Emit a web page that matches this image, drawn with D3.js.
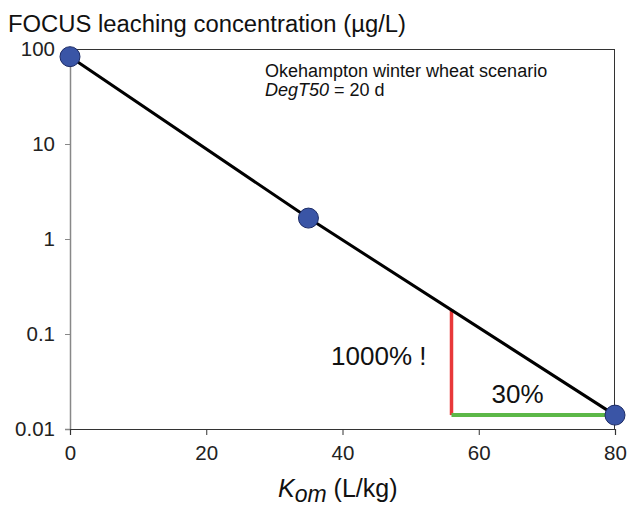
<!DOCTYPE html>
<html>
<head>
<meta charset="utf-8">
<script src="https://cdn.jsdelivr.net/npm/d3@7"></script>
<style>
  body { margin: 0; background: #fff; }
  svg { font-family: "Liberation Sans", Arial, sans-serif; display: block; }
</style>
</head>
<body>
<script>
// data
const komValues = [0, 35, 80];
const concValues = [83, 1.66, 0.014];
const xTickValues = [0, 20, 40, 60, 80];
const yTickValues = [100, 10, 1, 0.1, 0.01];
const yTickLabels = ["100", "10", "1", "0.1", "0.01"];
// annotation: the red (concentration) and green (Kom) legs
const markKom = [56, 80];
const markConc = [0.183, 0.014];

const svgWidth = 628;
const svgHeight = 513;
const margin = {top: 49, right: 13, bottom: 84, left: 70};
const chartWidth = svgWidth - margin.left - margin.right;
const chartHeight = svgHeight - margin.top - margin.bottom;

const svg = d3.select("body")
    .append("svg")
    .attr("width", svgWidth)
    .attr("height", svgHeight);

const g = svg.append("g")
    .attr("transform", `translate(${margin.left}, ${margin.top})`);

const x = d3.scaleLinear().domain([0, 80]).range([0, chartWidth]);
const y = d3.scaleLog().domain([0.01, 100]).range([chartHeight, 0]);

// frame lines on top and right
g.append("line")
    .attr("x1", 0).attr("x2", chartWidth)
    .attr("y1", 0.5).attr("y2", 0.5)
    .attr("stroke", "#333").attr("stroke-width", 1);
g.append("line")
    .attr("x1", chartWidth - 0.5).attr("x2", chartWidth - 0.5)
    .attr("y1", 0).attr("y2", chartHeight)
    .attr("stroke", "#333").attr("stroke-width", 1);

// y axis
const yAxis = g.append("g")
    .call(d3.axisLeft(y)
        .tickValues(yTickValues)
        .tickFormat((d, i) => yTickLabels[i])
        .tickSize(5)
        .tickPadding(10));
yAxis.select(".domain").attr("stroke", "#888").attr("stroke-width", 1.5);
yAxis.selectAll(".tick line").attr("stroke", "#888");
yAxis.selectAll("text")
    .style("font-size", "20.5px")
    .attr("fill", "#222");

// x axis
const xAxis = g.append("g")
    .attr("transform", `translate(0, ${chartHeight})`)
    .call(d3.axisBottom(x)
        .tickValues(xTickValues)
        .tickSize(6)
        .tickPadding(10));
xAxis.select(".domain").attr("stroke", "#333").attr("stroke-width", 1.2);
xAxis.selectAll(".tick line").attr("stroke", "#333");
xAxis.selectAll("text")
    .style("font-size", "20.5px")
    .attr("fill", "#222");

// red and green legs
g.append("line")
    .attr("x1", x(markKom[0])).attr("x2", x(markKom[0]))
    .attr("y1", y(markConc[0])).attr("y2", y(markConc[1]))
    .attr("stroke", "#e8383a").attr("stroke-width", 3.5);
g.append("line")
    .attr("x1", x(markKom[0])).attr("x2", x(markKom[1]))
    .attr("y1", y(markConc[1])).attr("y2", y(markConc[1]))
    .attr("stroke", "#5cb848").attr("stroke-width", 4);

// line through the points
const data = komValues.map((k, i) => ({kom: k, conc: concValues[i]}));
const line = d3.line()
    .x(d => x(d.kom))
    .y(d => y(d.conc));
g.append("path")
    .datum(data)
    .attr("d", line)
    .attr("fill", "none")
    .attr("stroke", "#000")
    .attr("stroke-width", 3);

g.selectAll("circle")
    .data(data)
    .join("circle")
    .attr("cx", d => x(d.kom))
    .attr("cy", d => y(d.conc))
    .attr("r", 10)
    .attr("fill", "#3a55a6")
    .attr("stroke", "#1c2b66")
    .attr("stroke-width", 1);

// annotations
g.append("text")
    .attr("x", x(markKom[0]) - 25)
    .attr("y", 316)
    .attr("text-anchor", "end")
    .style("font-size", "26px")
    .attr("fill", "#111")
    .text("1000% !");
g.append("text")
    .attr("x", x(markKom[0]) + 66)
    .attr("y", 354)
    .attr("text-anchor", "middle")
    .style("font-size", "26px")
    .attr("fill", "#111")
    .text("30%");

const note = g.append("text")
    .attr("x", 195)
    .attr("y", 28)
    .style("font-size", "18px")
    .attr("fill", "#111");
note.append("tspan").text("Okehampton winter wheat scenario");
const line2 = g.append("text")
    .attr("x", 195)
    .attr("y", 47)
    .style("font-size", "18px")
    .attr("fill", "#111");
line2.append("tspan").style("font-style", "italic").text("DegT50");
line2.append("tspan").text(" = 20 d");

// title
svg.append("text")
    .attr("x", 8)
    .attr("y", 32)
    .style("font-size", "23px")
    .attr("textLength", 398)
    .attr("lengthAdjust", "spacingAndGlyphs")
    .attr("fill", "#111")
    .text("FOCUS leaching concentration (\u00b5g/L)");

// x axis label
const xl = svg.append("text")
    .attr("x", 278)
    .attr("y", 497)
    .style("font-size", "25px")
    .attr("fill", "#111");
xl.append("tspan").style("font-style", "italic").text("K");
xl.append("tspan").style("font-style", "italic").style("font-size", "23px").attr("dy", 5).text("om");
xl.append("tspan").attr("dy", -5).text(" (L/kg)");
</script>
</body>
</html>
